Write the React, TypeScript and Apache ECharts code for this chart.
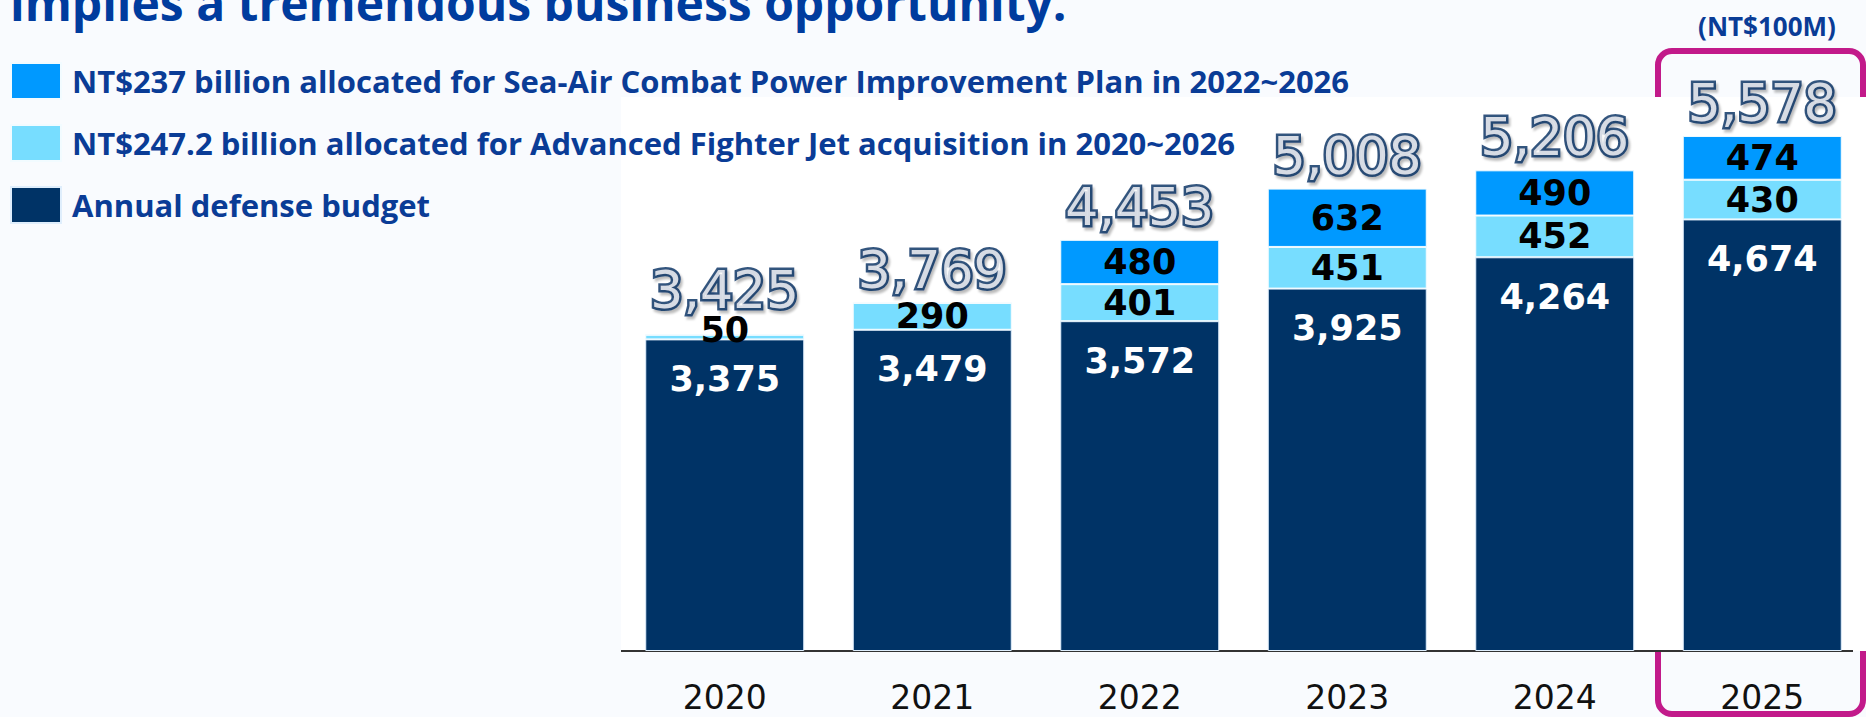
import React, { useEffect, useRef } from "react";
import * as echarts from "echarts";

const years = ["2020", "2021", "2022", "2023", "2024", "2025"];
const annualBudget = [3375, 3479, 3572, 3925, 4264, 4674];
const fighterJet = [50, 290, 401, 451, 452, 430];
const seaAir = [0, 0, 480, 632, 490, 474];
const totals = [3425, 3769, 4453, 5008, 5206, 5578];

const seaAirName = "NT$237 billion allocated for Sea-Air Combat Power Improvement Plan in 2022~2026";
const fighterName = "NT$247.2 billion allocated for Advanced Fighter Jet acquisition in 2020~2026";
const annualName = "Annual defense budget";
const titleText = "implies a tremendous business opportunity.";
const unitText = "(NT$100M)";

const fmt = (v: number) => v.toLocaleString("en-US");

export default function App() {
  const ref = useRef<HTMLDivElement>(null);
  useEffect(() => {
    if (!ref.current) return;
    const chart = echarts.init(ref.current, null, { renderer: "svg" });
    const numFont = "DejaVu Sans";
    const blackLabel = {
      show: true,
      position: "inside" as const,
      color: "#000",
      fontFamily: numFont,
      fontWeight: "bold" as const,
      fontSize: 35,
    };
    chart.setOption({
      animation: false,
      backgroundColor: "#F9FBFE",
      grid: {
        left: 621,
        top: 97,
        width: 1245,
        height: 554,
        show: true,
        backgroundColor: "#ffffff",
        borderWidth: 0,
      },
      legend: {
        data: [seaAirName, fighterName, annualName],
        orient: "vertical",
        left: 5,
        top: 57,
        itemWidth: 50,
        itemHeight: 36,
        itemGap: 24,
        icon: "rect",
        selectedMode: false,
        textStyle: {
          fontFamily: "Open Sans",
          fontWeight: "bold",
          fontSize: 31,
          color: "#0A3C96",
          padding: [0, 0, 0, 6],
        },
      },
      xAxis: {
        type: "category",
        data: years,
        axisTick: { show: false },
        axisLine: { show: false },
        axisLabel: {
          margin: 30,
          fontFamily: numFont,
          fontSize: 33,
          color: "#111",
        },
      },
      yAxis: { type: "value", min: 0, max: 6000, show: false, splitLine: { show: false } },
      graphic: [
        {
          type: "text",
          left: 10,
          top: -22,
          style: {
            text: titleText,
            fontFamily: "Open Sans",
            fontWeight: "bold",
            fontSize: 48,
            fill: "#003C9E",
          },
        },
        {
          type: "text",
          x: 1767,
          y: 26,
          style: {
            text: unitText,
            fontFamily: "Open Sans",
            fontWeight: "bold",
            fontSize: 26,
            fill: "#0A3C96",
            align: "center",
            verticalAlign: "middle",
          },
        },
        {
          type: "rect",
          z: -1,
          shape: { x: 1658, y: 51, width: 205, height: 663, r: 14 },
          style: { fill: "none", stroke: "#C21A8A", lineWidth: 6 },
        },
        {
          type: "line",
          shape: { x1: 621, y1: 651, x2: 1853, y2: 651 },
          style: { stroke: "#333", lineWidth: 2 },
        },
      ],
      series: [
        {
          name: annualName,
          type: "bar",
          stack: "total",
          barWidth: 159,
          data: annualBudget,
          itemStyle: { color: "#003366", borderColor: "#dfeefc", borderWidth: 1 },
          label: {
            show: true,
            position: "insideTop",
            distance: 22,
            color: "#fff",
            fontFamily: numFont,
            fontWeight: "bold",
            fontSize: 35,
            formatter: (p: any) => fmt(p.value),
          },
        },
        {
          name: fighterName,
          type: "bar",
          stack: "total",
          barWidth: 159,
          data: fighterJet.map((v, i) =>
            i === 0 ? { value: v, label: { offset: [0, -7] } } : v
          ),
          itemStyle: { color: "#77DDFF", borderColor: "#f2fbff", borderWidth: 1 },
          label: { ...blackLabel, formatter: (p: any) => fmt(p.value) },
        },
        {
          name: seaAirName,
          type: "bar",
          stack: "total",
          barWidth: 159,
          data: seaAir,
          itemStyle: { color: "#0099FF", borderColor: "#f2fbff", borderWidth: 1 },
          label: {
            ...blackLabel,
            formatter: (p: any) => (p.value > 0 ? fmt(p.value) : ""),
          },
        },
        {
          name: "Total",
          type: "scatter",
          symbolSize: 0,
          data: totals.map((v, i) =>
            i === 0 ? { value: v, label: { offset: [0, -12] } } : v
          ),
          z: 5,
          label: {
            show: true,
            position: "top",
            distance: 7,
            color: "#ffffff",
            fontFamily: numFont,
            fontSize: 52,
            textBorderColor: "#072A5E",
            textBorderWidth: 5,
            textShadowColor: "rgba(0,0,0,0.3)",
            textShadowBlur: 2,
            textShadowOffsetX: 2,
            textShadowOffsetY: 3,
            formatter: (p: any) => fmt(p.value),
          },
        },
      ],
    });
    return () => chart.dispose();
  }, []);
  return (
    <div
      ref={ref}
      style={{ position: "fixed", left: 0, top: 0, width: 1866, height: 717 }}
    />
  );
}
